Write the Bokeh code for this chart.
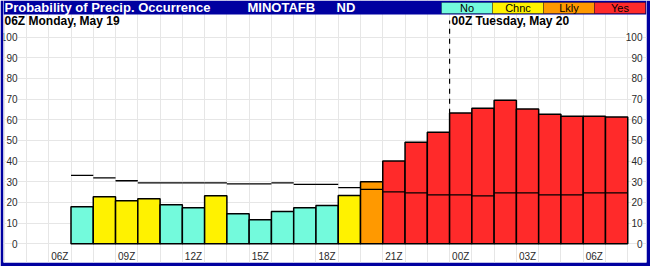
from bokeh.plotting import figure
from bokeh.models import (BoxAnnotation, Label, LabelSet, ColumnDataSource,
                          FixedTicker, Grid, Range1d)
from bokeh.core.properties import value
from bokeh.embed import file_html
from bokeh.resources import INLINE

# ---------------- data ----------------
# hours after 06Z Monday, May 19
hours = list(range(1, 26))
pop = [17.9, 22.7, 20.8, 21.8, 18.9, 17.4, 23.2, 14.5, 11.6, 15.6, 17.4, 18.5,
       23.3, 30.0, 40.0, 49.1, 54.0, 63.2, 65.6, 69.4, 65.2, 62.7, 61.7, 61.7, 61.3]
threshold = [33.1, 31.9, 30.5, 29.5, 29.5, 29.5, 29.5, 29.0, 29.0, 29.5, 28.7, 28.7,
             27.2, 26.3, 25.1, 24.6, 23.7, 23.7, 23.2, 24.6, 24.6, 23.7, 23.7, 24.6, 24.6]
category = ["No", "Chnc", "Chnc", "Chnc", "No", "No", "Chnc", "No", "No", "No", "No", "No",
            "Chnc", "Lkly", "Yes", "Yes", "Yes", "Yes", "Yes", "Yes", "Yes", "Yes", "Yes",
            "Yes", "Yes"]
categories = ["No", "Chnc", "Lkly", "Yes"]
cat_colors = ["#73FADC", "#FFF200", "#FF9900", "#FF2A2A"]
x_tick_hours = [0, 3, 6, 9, 12, 15, 18, 21, 24]
x_tick_labels = ["06Z", "09Z", "12Z", "15Z", "18Z", "21Z", "00Z", "03Z", "06Z"]
y_ticks = list(range(0, 101, 10))
day_labels = ["06Z Monday, May 19", "00Z Tuesday, May 20"]
day_start_hours = [0, 18]
title_text = "Probability of Precip. Occurrence"
station = "MINOTAFB"
state = "ND"

# ---------------- layout constants (pixels) ----------------
W, H = 650, 266
BL, BR, BT, BB = 3, 4, 0, 4
PX_PER_HOUR = 22.27
X0_PX = 70.5 - 0.5 * PX_PER_HOUR      # canvas px of hour 0
PX_PER_PCT = 2.068
Y0_PX = 243.3                          # canvas px of 0 %
BLUE = "#0000A0"
FONT = "Liberation Sans"


def xd(px):
    return (px - X0_PX) / PX_PER_HOUR


def yd(py):
    return (Y0_PX - py) / PX_PER_PCT


p = figure(width=W, height=H, output_backend="svg", toolbar_location=None,
           x_axis_type=None, y_axis_type=None,
           x_range=Range1d(xd(BL), xd(W - BR)), y_range=Range1d(yd(H - BB), yd(BT)),
           min_border_left=BL, min_border_right=BR, min_border_top=BT,
           min_border_bottom=BB, border_fill_color=BLUE, background_fill_color="white",
           outline_line_color=None)

# grids
slot_edges = [k - 0.5 for k in range(-2, 28)]
p.add_layout(Grid(dimension=0, ticker=FixedTicker(ticks=slot_edges),
                  grid_line_color="#E6E6E6", grid_line_width=1), "center")
p.add_layout(Grid(dimension=1, ticker=FixedTicker(ticks=y_ticks),
                  grid_line_color="#E6E6E6", grid_line_width=1), "center")

# day boundary dashed line
bx = day_start_hours[1] - 0.5
p.segment(x0=[bx], x1=[bx], y0=[0], y1=[yd(20)], line_color="black",
          line_width=1.2, line_dash="5 5")

# bars
color_map = dict(zip(categories, cat_colors))
src = ColumnDataSource(dict(
    hour=hours, pop=pop, thr=threshold,
    x0=[h - 0.5 for h in hours], x1=[h + 0.5 for h in hours],
    color=[color_map[c] for c in category]))
p.vbar(x="hour", top="pop", bottom=0, width=1, fill_color="color",
       line_color="black", line_width=1.5, source=src)
p.segment(x0="x0", x1="x1", y0="thr", y1="thr", line_color="black",
          line_width=1.3, source=src)

# axis tick labels
lab_style = dict(text_font=value(FONT), text_font_size=value("10px"),
                 text_color=value("#2a2a2a"))
ysrc_l = ColumnDataSource(dict(x=[xd(17)] * len(y_ticks), y=y_ticks,
                               t=[str(v) for v in y_ticks]))
ysrc_r = ColumnDataSource(dict(x=[xd(642)] * len(y_ticks), y=y_ticks,
                               t=[str(v) for v in y_ticks]))
p.add_layout(LabelSet(x="x", y="y", text="t", source=ysrc_l, text_align="right",
                      text_baseline="middle", background_fill_color="white",
                      **lab_style))
p.add_layout(LabelSet(x="x", y="y", text="t", source=ysrc_r, text_align="right",
                      text_baseline="middle", background_fill_color="white",
                      **lab_style))
xsrc = ColumnDataSource(dict(x=x_tick_hours, y=[yd(255.8)] * len(x_tick_hours),
                             t=x_tick_labels))
p.add_layout(LabelSet(x="x", y="y", text="t", source=xsrc, text_align="center",
                      text_baseline="middle", **lab_style))

# day header labels
day_x = [xd(4), day_start_hours[1] - 0.5 + 2 / PX_PER_HOUR]
for dx, txt in zip(day_x, day_labels):
    p.add_layout(Label(x=dx, y=yd(20.8), text=txt, text_font=FONT,
                       text_font_size="12px", text_font_style="bold",
                       text_color="black", text_align="left",
                       text_baseline="middle"))

# title bar
p.add_layout(BoxAnnotation(bottom=yd(14), fill_color=BLUE, fill_alpha=1,
                           line_color=None, level="annotation"))
for px, txt in [(4, title_text), (247, station), (336, state)]:
    p.add_layout(Label(x=xd(px), y=yd(6.9), text=txt, text_font=FONT,
                       text_font_size="13px", text_font_style="bold",
                       text_color="white", text_align="left",
                       text_baseline="middle"))

# legend boxes
LEG_LEFT, LEG_W = 441, 51
for i, (cat, col) in enumerate(zip(categories, cat_colors)):
    l = LEG_LEFT + i * LEG_W
    p.add_layout(BoxAnnotation(left=xd(l), right=xd(l + LEG_W), top=yd(2), bottom=yd(13),
                               fill_color=col, fill_alpha=1, line_color="black",
                               line_width=1))
    p.add_layout(Label(x=xd(l + LEG_W / 2), y=yd(7.4), text=cat, text_font=FONT,
                       text_font_size="11px", text_color="black", text_align="center",
                       text_baseline="middle"))

open("out.html", "w").write(file_html(p, INLINE))
